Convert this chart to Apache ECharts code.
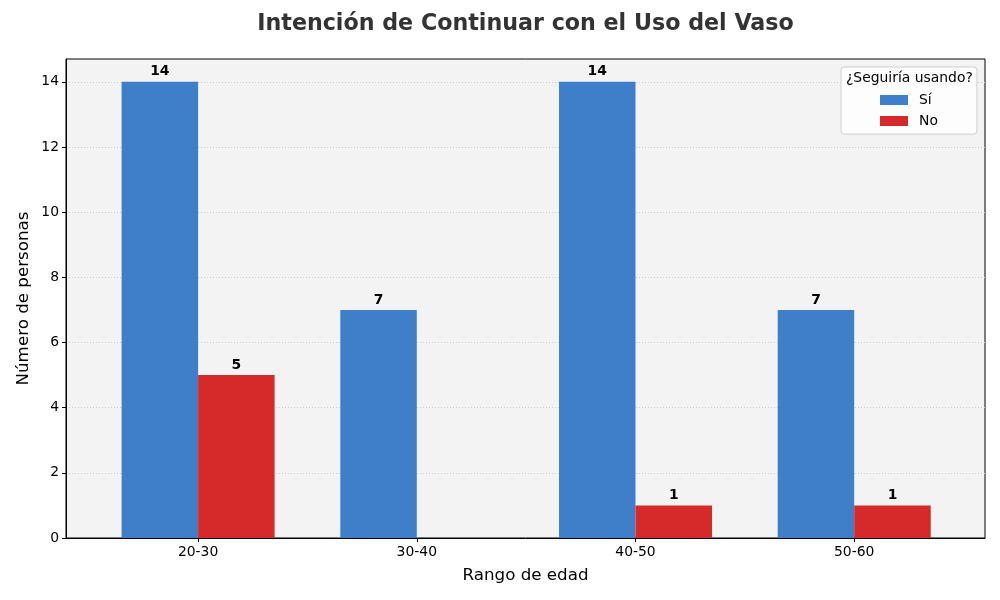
<!DOCTYPE html>
<html>
<head>
<meta charset="utf-8">
<script src="https://cdn.jsdelivr.net/npm/echarts@6/dist/echarts.min.js"></script>
<style>html,body{margin:0;padding:0;background:#fff}#c{width:1000px;height:600px}</style>
</head>
<body>
<div id="c"></div>
<script>
const categories = ['20-30', '30-40', '40-50', '50-60'];
const siValues = [14, 7, 14, 7];
const noValues = [5, 0, 1, 1];
const yTicks = [0, 2, 4, 6, 8, 10, 12, 14];

const FONT = 'DejaVu Sans';
const chart = echarts.init(document.getElementById('c'));
const labelCfg = {
  show: true, position: 'top', distance: 3,
  fontFamily: FONT, fontSize: 13.9, fontWeight: 'bold', color: '#000',
  formatter: p => (p.value[1] === 0 ? '' : String(p.value[1]))
};
chart.setOption({
  animation: false,
  textStyle: { fontFamily: FONT },
  grid: {
    left: 66, right: 15, top: 59, bottom: 62,
    show: true, backgroundColor: '#f3f3f3', borderColor: '#000', borderWidth: 1
  },
  legend: {
    orient: 'vertical', left: 841, top: 67,
    backgroundColor: 'rgba(255,255,255,0.8)', borderColor: '#d0d0d0', borderWidth: 1, borderRadius: 3,
    padding: [26, 39, 6, 39],
    itemWidth: 28, itemHeight: 10, itemGap: 7,
    icon: 'rect',
    textStyle: { fontFamily: FONT, fontSize: 13.9, color: '#000', padding: [0, 0, 0, 6] },
    data: ['Sí', 'No']
  },
  graphic: [{
    type: 'text', x: 525.5, y: 24, z: 100,
    style: { text: 'Intención de Continuar con el Uso del Vaso', font: 'bold 22.2px "DejaVu Sans"',
      fill: '#333', align: 'center', verticalAlign: 'middle' }
  }, {
    type: 'text', left: 846, top: 71, z: 100,
    style: { text: '¿Seguiría usando?', font: '13.9px "DejaVu Sans"', fill: '#000' }
  }],
  xAxis: {
    type: 'value', min: -0.604, max: 3.598,
    name: 'Rango de edad', nameLocation: 'middle', nameGap: 29, nameMoveOverlap: false,
    nameTextStyle: { fontFamily: FONT, fontSize: 16.7, color: '#000' },
    axisLine: { show: true, onZero: false, lineStyle: { color: '#000' } },
    axisTick: { show: true, length: 4, customValues: [0, 1, 2, 3], lineStyle: { color: '#000' } },
    axisLabel: { customValues: [0, 1, 2, 3], fontFamily: FONT, fontSize: 13.9, color: '#000', margin: 7,
      formatter: v => categories[Math.round(v)] || '' },
    splitLine: { show: false }
  },
  yAxis: {
    type: 'value', min: 0, max: 14.7,
    name: 'Número de personas', nameLocation: 'middle', nameGap: 34, nameMoveOverlap: false,
    nameTextStyle: { fontFamily: FONT, fontSize: 16.7, color: '#000' },
    axisLine: { show: true, onZero: false, lineStyle: { color: '#000' } },
    axisTick: { show: true, length: 4, customValues: yTicks, lineStyle: { color: '#000' } },
    axisLabel: { customValues: yTicks, fontFamily: FONT, fontSize: 13.9, color: '#000', margin: 7 },
    interval: 2,
    splitLine: { show: true, lineStyle: { color: '#cfcfcf', type: [1, 2], width: 1 } }
  },
  series: [
    { name: 'Sí', type: 'bar', barWidth: 76.5, barGap: '0%',
      itemStyle: { color: '#3f7fca' }, label: labelCfg,
      data: siValues.map((v, i) => [i, v]) },
    { name: 'No', type: 'bar', barWidth: 76.5, barGap: '0%',
      itemStyle: { color: '#d62a2a' }, label: labelCfg,
      data: noValues.map((v, i) => [i, v]) }
  ]
});
</script>
</body>
</html>
